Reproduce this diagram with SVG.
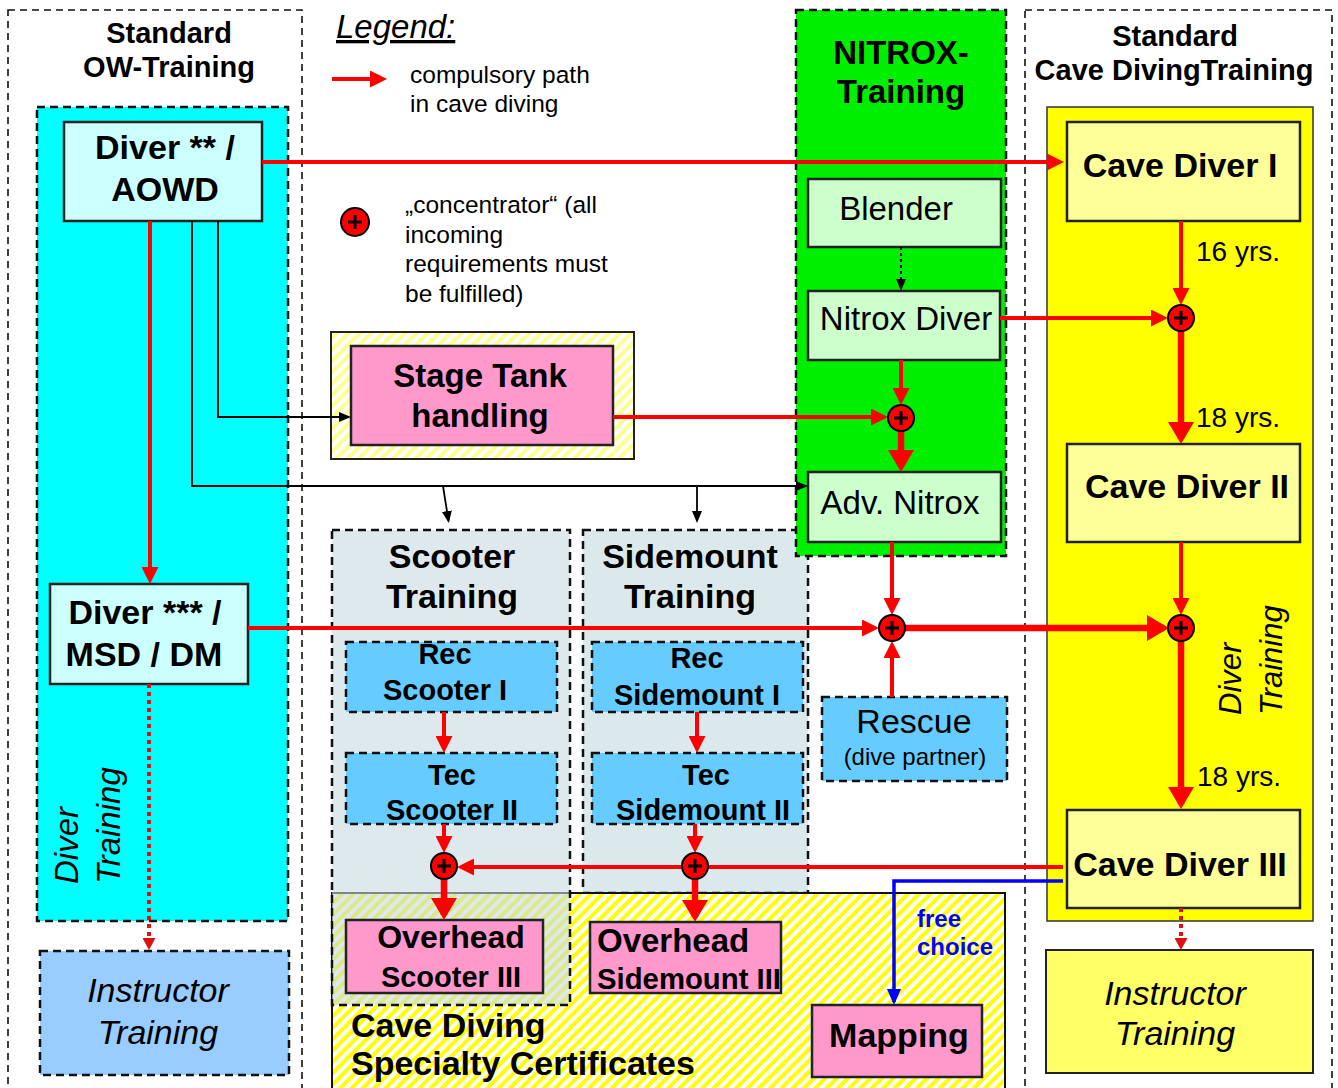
<svg xmlns="http://www.w3.org/2000/svg" width="1338" height="1088" viewBox="0 0 1338 1088">
<defs>
<style>
text{font-family:"Liberation Sans",Arial,sans-serif;fill:#000}
.b{font-weight:bold}
.i{font-style:italic}
.c{text-anchor:middle}
.node{stroke:#222;stroke-width:2.5}
.dash{stroke:#111;stroke-width:2.5;stroke-dasharray:8 5}
.col{fill:none;stroke:#111;stroke-width:1.6;stroke-dasharray:7 5}
.r{fill:none;stroke:#f00;stroke-width:4}
.rt{fill:none;stroke:#f00;stroke-width:6.5}
.rd{fill:none;stroke:#e01010;stroke-width:4;stroke-dasharray:4 4}
.k{fill:none;stroke:#000;stroke-width:1.8}
.bl{fill:none;stroke:#0000ff;stroke-width:3.5}
</style>
<marker id="arR" markerUnits="userSpaceOnUse" markerWidth="17" markerHeight="17" refX="13" refY="8.5" orient="auto"><path d="M0,0 L17,8.5 L0,17 z" fill="#f00"/></marker>
<marker id="arRB" markerUnits="userSpaceOnUse" markerWidth="22" markerHeight="26" refX="17" refY="13" orient="auto"><path d="M0,0 L22,13 L0,26 z" fill="#f00"/></marker>
<marker id="arRs" markerUnits="userSpaceOnUse" markerWidth="12" markerHeight="13" refX="10" refY="6.5" orient="auto"><path d="M0,0 L12,6.5 L0,13 z" fill="#e01010"/></marker>
<marker id="arK" markerUnits="userSpaceOnUse" markerWidth="12" markerHeight="10" refX="10" refY="5" orient="auto"><path d="M0,0 L12,5 L0,10 z" fill="#000"/></marker>
<marker id="arBl" markerUnits="userSpaceOnUse" markerWidth="16" markerHeight="14" refX="13" refY="7" orient="auto"><path d="M0,0 L16,7 L0,14 z" fill="#0000ff"/></marker>
<pattern id="hatchY" patternUnits="userSpaceOnUse" width="8" height="8" patternTransform="rotate(45)">
<rect width="8" height="8" fill="#fff"/><rect width="4" height="8" fill="#ffff00"/></pattern>
<pattern id="hatchL" patternUnits="userSpaceOnUse" width="8" height="8" patternTransform="rotate(45)">
<rect width="8" height="8" fill="#fff"/><rect width="4" height="8" fill="#ffff90"/></pattern>
<g id="conc"><circle r="13" fill="#f00" stroke="#000" stroke-width="2"/><path d="M-7,0 H7 M0,-7 V7" stroke="#000" stroke-width="3"/></g>
</defs>
<rect width="1338" height="1088" fill="#fff"/>

<g id="ow-column">
<rect x="8" y="10" width="294" height="1095" class="col"/>
<text class="b c" font-size="29" x="169" y="43">Standard</text>
<text class="b c" font-size="29" x="169" y="77">OW-Training</text>
</g>
<g id="cave-column">
<rect x="1025" y="10" width="307" height="1095" class="col"/>
<text class="b c" font-size="29" x="1175" y="46">Standard</text>
<text class="b c" font-size="29" x="1174" y="80">Cave DivingTraining</text>
</g>
<g id="ow-diver-training">
<rect x="37" y="107" width="251" height="814" fill="#00ffff" class="dash" stroke-width="2"/>
<text class="i" font-size="33" transform="translate(78,884) rotate(-90)"><tspan x="0" y="0">Diver</tspan><tspan x="0" y="42">Training</tspan></text>
</g>
<g id="cave-diver-training">
<rect x="1047" y="107" width="266" height="814" fill="#ffff00" stroke="#333" stroke-width="1.5"/>
<text class="i" font-size="31" transform="translate(1241,715) rotate(-90)"><tspan x="0" y="0">Diver</tspan><tspan x="0" y="41">Training</tspan></text>
</g>
<g id="sidemount-training">
<rect x="583" y="530" width="225" height="363" fill="#dce9ec" class="dash" stroke-width="2"/>
<text class="b c" font-size="34" x="690" y="568">Sidemount</text>
<text class="b c" font-size="34" x="690" y="608">Training</text>
</g>
<g id="nitrox-training">
<rect x="796" y="10" width="210" height="546" fill="#00ee00" class="dash" stroke-width="2"/>
<text class="b c" font-size="33" x="901" y="64">NITROX-</text>
<text class="b c" font-size="33" x="901" y="103">Training</text>
</g>
<g id="specialty">
<rect x="332" y="893" width="673" height="210" fill="url(#hatchY)" stroke="#111" stroke-width="2"/>
<text class="b" font-size="34" x="351" y="1037">Cave Diving</text>
<text class="b" font-size="34" x="351" y="1075">Specialty Certificates</text>
</g>
<g id="scooter-training">
<rect x="332" y="530" width="238" height="475" fill="#c6dadf" fill-opacity="0.6" class="dash" stroke-width="2"/>
<text class="b c" font-size="34" x="452" y="568">Scooter</text>
<text class="b c" font-size="34" x="452" y="608">Training</text>
</g>
<g id="stage-tank-frame">
<rect x="331" y="332" width="303" height="127" fill="url(#hatchL)" stroke="#222" stroke-width="2"/>
</g>

<g id="legend">
<text class="i" font-size="33" x="336" y="38" text-decoration="underline">Legend:</text>
<path d="M332,79 H383" class="r" stroke-width="5" marker-end="url(#arR)"/>
<text font-size="24.5" x="410" y="83">compulsory path</text>
<text font-size="24.5" x="410" y="112">in cave diving</text>
<circle cx="355" cy="222" r="14" fill="#f00" stroke="#000" stroke-width="2"/>
<path d="M348,222 H362 M355,215 V229" stroke="#000" stroke-width="3"/>
<text font-size="24.5" x="405" y="213">„concentrator“ (all</text>
<text font-size="24.5" x="405" y="243">incoming</text>
<text font-size="24.5" x="405" y="272">requirements must</text>
<text font-size="24.5" x="405" y="302">be fulfilled)</text>
</g>

<g id="diver2"><rect x="64" y="122" width="198" height="99" fill="#ccffff" class="node"/>
<text class="b c" font-size="34" x="165" y="159">Diver ** /</text><text class="b c" font-size="34" x="165" y="201">AOWD</text></g>
<g id="diver3"><rect x="50" y="584" width="198" height="100" fill="#ccffff" class="node"/>
<text class="b c" font-size="34" x="145" y="624">Diver *** /</text><text class="b c" font-size="34" x="144" y="666">MSD / DM</text></g>
<g id="instructor-ow"><rect x="40" y="951" width="249" height="124" fill="#99ccff" class="dash"/>
<text class="i c" font-size="34" x="158" y="1002">Instructor</text><text class="i c" font-size="34" x="158" y="1044">Training</text></g>
<g id="cave1"><rect x="1067" y="122" width="233" height="99" fill="#ffff99" class="node"/>
<text class="b c" font-size="34" x="1180" y="177">Cave Diver I</text></g>
<g id="cave2"><rect x="1067" y="444" width="233" height="98" fill="#ffff99" class="node"/>
<text class="b c" font-size="34" x="1187" y="498">Cave Diver II</text></g>
<g id="cave3"><rect x="1067" y="810" width="233" height="98" fill="#ffff99" class="node"/>
<text class="b c" font-size="34" x="1180" y="876">Cave Diver III</text></g>
<g id="instructor-cave"><rect x="1046" y="950" width="267" height="123" fill="#ffff66" stroke="#222" stroke-width="2"/>
<text class="i c" font-size="34" x="1175" y="1005">Instructor</text><text class="i c" font-size="34" x="1175" y="1045">Training</text></g>
<g id="blender"><rect x="808" y="179" width="193" height="68" fill="#ccffcc" class="node"/>
<text class="c" font-size="33" x="896" y="220">Blender</text></g>
<g id="nitrox-diver"><rect x="808" y="291" width="192" height="69" fill="#ccffcc" class="node"/>
<text class="c" font-size="33" x="906" y="330">Nitrox Diver</text></g>
<g id="adv-nitrox"><rect x="808" y="472" width="193" height="70" fill="#ccffcc" class="node"/>
<text class="c" font-size="33" x="900" y="514">Adv. Nitrox</text></g>
<g id="stage-tank"><rect x="351" y="346" width="262" height="99" fill="#ff99cc" class="node"/>
<text class="b c" font-size="33" x="480" y="387">Stage Tank</text><text class="b c" font-size="33" x="480" y="427">handling</text></g>
<g id="rec-scooter"><rect x="346" y="642" width="211" height="70" fill="#66ccff" class="dash"/>
<text class="b c" font-size="29" x="445" y="664">Rec</text><text class="b c" font-size="29" x="445" y="700">Scooter I</text></g>
<g id="tec-scooter"><rect x="346" y="753" width="211" height="71" fill="#66ccff" class="dash"/>
<text class="b c" font-size="29" x="452" y="785">Tec</text><text class="b c" font-size="29" x="452" y="820">Scooter II</text></g>
<g id="rec-sidemount"><rect x="592" y="642" width="211" height="70" fill="#66ccff" class="dash"/>
<text class="b c" font-size="29" x="697" y="668">Rec</text><text class="b c" font-size="29" x="697" y="705">Sidemount I</text></g>
<g id="tec-sidemount"><rect x="592" y="753" width="211" height="71" fill="#66ccff" class="dash"/>
<text class="b c" font-size="29" x="706" y="785">Tec</text><text class="b c" font-size="29" x="703" y="820">Sidemount II</text></g>
<g id="rescue"><rect x="822" y="697" width="185" height="84" fill="#66ccff" class="dash"/>
<text class="c" font-size="34" x="914" y="733">Rescue</text><text class="c" font-size="24" x="915" y="765">(dive partner)</text></g>
<g id="overhead-scooter"><rect x="346" y="920" width="197" height="73" fill="#ff99cc" class="node"/>
<text class="b c" font-size="32" x="451" y="948">Overhead</text><text class="b c" font-size="29" x="451" y="987">Scooter III</text></g>
<g id="overhead-sidemount"><rect x="590" y="922" width="191" height="71" fill="#ff99cc" class="node"/>
<text class="b" font-size="33" x="597" y="952">Overhead</text><text class="b" font-size="29" x="597" y="989" textLength="184" lengthAdjust="spacingAndGlyphs">Sidemount III</text></g>
<g id="mapping"><rect x="812" y="1005" width="170" height="72" fill="#ff99cc" class="node"/>
<text class="b c" font-size="34" x="899" y="1047">Mapping</text></g>

<g id="connectors">
<path d="M262,162 H1060" class="r" marker-end="url(#arR)"/>
<path d="M150,221 V580" class="r" marker-end="url(#arR)"/>
<path d="M218,221 V417 H349" class="k" marker-end="url(#arK)"/>
<path d="M192,221 V486 H806" class="k" marker-end="url(#arK)"/>
<path d="M443,486 L448.5,521" class="k" marker-end="url(#arK)"/>
<path d="M697,486 V521" class="k" marker-end="url(#arK)"/>
<path d="M613,417 H884" class="r" marker-end="url(#arR)"/>
<path d="M901,247 V289" fill="none" stroke="#000" stroke-width="2" stroke-dasharray="3 3" marker-end="url(#arK)"/>
<path d="M901,360 V401" class="r" marker-end="url(#arR)"/>
<path d="M901,431 V467" class="rt" marker-end="url(#arRB)"/>
<path d="M1000,318 H1164" class="r" marker-end="url(#arR)"/>
<path d="M1181,221 V301" class="r" marker-end="url(#arR)"/>
<path d="M1181,331 V439" class="rt" marker-end="url(#arRB)"/>
<path d="M892,542 V611" class="r" marker-end="url(#arR)"/>
<path d="M248,628 H875" class="r" marker-end="url(#arR)"/>
<path d="M892,697 V645" class="r" marker-end="url(#arR)"/>
<path d="M905,628 H1164" class="rt" marker-end="url(#arRB)"/>
<path d="M1181,542 V611" class="r" marker-end="url(#arR)"/>
<path d="M1181,641 V804" class="rt" marker-end="url(#arRB)"/>
<path d="M1063,867 H461" class="r" marker-end="url(#arR)"/>
<path d="M444,712 V749" class="r" marker-end="url(#arR)"/>
<path d="M444,824 V849" class="r" marker-end="url(#arR)"/>
<path d="M444,879 V915" class="rt" marker-end="url(#arRB)"/>
<path d="M697,712 V749" class="r" marker-end="url(#arR)"/>
<path d="M695,824 V849" class="r" marker-end="url(#arR)"/>
<path d="M695,879 V917" class="rt" marker-end="url(#arRB)"/>
<path d="M149,684 V948" class="rd" marker-end="url(#arRs)"/>
<path d="M1181,908 V948" class="rd" marker-end="url(#arRs)"/>
<path d="M1063,881 H894 V1002" class="bl" marker-end="url(#arBl)"/>
<text font-size="28" x="1196" y="261">16 yrs.</text>
<text font-size="28" x="1196" y="427">18 yrs.</text>
<text font-size="28" x="1197" y="786">18 yrs.</text>
<text class="b" font-size="24" x="917" y="927" style="fill:#0000ff">free</text>
<text class="b" font-size="24" x="917" y="955" style="fill:#0000ff">choice</text>
</g>

<g id="concentrators">
<use href="#conc" x="901" y="418"/>
<use href="#conc" x="1181" y="318"/>
<use href="#conc" x="892" y="628"/>
<use href="#conc" x="1181" y="628"/>
<use href="#conc" x="444" y="866"/>
<use href="#conc" x="695" y="866"/>
</g>
</svg>
